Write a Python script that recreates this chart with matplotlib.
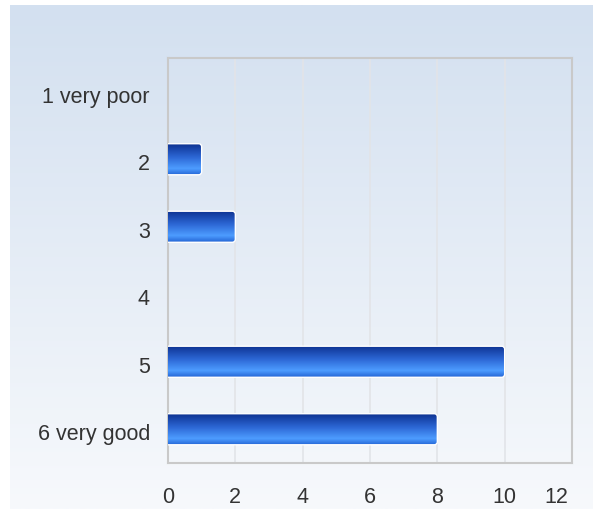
import numpy as np
import matplotlib
matplotlib.use("Agg")
import matplotlib.pyplot as plt
import matplotlib.transforms as mtransforms
from matplotlib.patches import FancyBboxPatch
from matplotlib.colors import LinearSegmentedColormap

categories = ["1 very poor", "2", "3", "4", "5", "6 very good"]
values = [0, 1, 2, 0, 10, 8]
xticks = [0, 2, 4, 6, 8, 10, 12]

plt.rcParams['font.family'] = ['Liberation Sans', 'DejaVu Sans']

fig = plt.figure(figsize=(5.93, 5.09), dpi=100)
fig.patch.set_facecolor("white")

# background gradient panel (white margin left/top)
bg = fig.add_axes([10 / 593, 0, 583 / 593, 504 / 509])
bg_cmap = LinearSegmentedColormap.from_list("bg", ["#d3e0f0", "#f7f9fc"])
bg.imshow(np.linspace(0, 1, 256).reshape(-1, 1), aspect="auto", cmap=bg_cmap,
          extent=[0, 1, 0, 1], origin="upper")
bg.set_axis_off()

ax = fig.add_axes([168 / 593, 1 - 463 / 509, 404 / 593, 405 / 509])
ax.set_facecolor("none")

bar_cmap = LinearSegmentedColormap.from_list(
    "bar", [(0, "#0c2f8e"), (0.45, "#2d68d6"), (0.8, "#4d9cff"), (1, "#2566d6")])
grad = np.linspace(0, 1, 128).reshape(-1, 1)
h = 0.46

for i, v in enumerate(values):
    if v <= 0:
        continue
    box = FancyBboxPatch((-0.3, i - h / 2), v + 0.3, h,
                         boxstyle="round,pad=0,rounding_size=0.09",
                         mutation_aspect=0.5, facecolor="none",
                         edgecolor="white", linewidth=1, zorder=4)
    ax.add_patch(box)
    im = ax.imshow(grad, aspect="auto", cmap=bar_cmap,
                   extent=[-0.3, v, i + h / 2, i - h / 2], zorder=3)
    im.set_clip_path(box)

ax.set_xlim(0, 12)
ax.set_ylim(len(categories) - 0.5, -0.5)
ax.set_xticks(xticks)
ax.set_yticks(range(len(categories)))
ax.set_yticklabels(categories)
ax.grid(axis="x", color="#e2e4e8", linewidth=1.2, zorder=0)
ax.set_axisbelow(True)
for s in ax.spines.values():
    s.set_color("#c9c9c9")
    s.set_linewidth(1.5)
ax.tick_params(axis="both", length=0, labelsize=15.5, colors="#333333")
ax.tick_params(axis="y", pad=13)
ax.tick_params(axis="x", pad=17)

# y labels sit a little lower, last x label pulled inside
down = mtransforms.ScaledTranslation(0, -2 / 72, fig.dpi_scale_trans)
for lab in ax.get_yticklabels():
    lab.set_transform(lab.get_transform() + down)
left = mtransforms.ScaledTranslation(-11 / 72, 0, fig.dpi_scale_trans)
last = ax.get_xticklabels()[-1]
last.set_transform(last.get_transform() + left)

fig.savefig("out.png", dpi=100)
